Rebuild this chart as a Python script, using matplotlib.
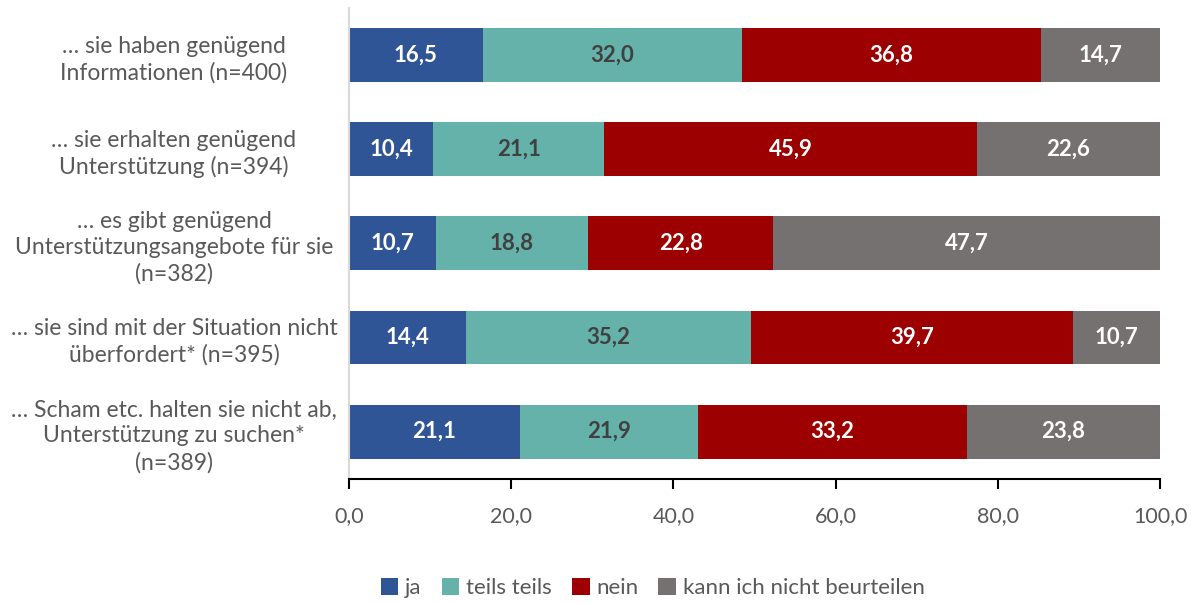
import numpy as np
from matplotlib import pyplot as plt

plt.rcParams['font.family'] = ['Lato', 'DejaVu Sans']

categories = [
    "… sie haben genügend\nInformationen (n=400)",
    "… sie erhalten genügend\nUnterstützung (n=394)",
    "… es gibt genügend\nUnterstützungsangebote für sie\n(n=382)",
    "… sie sind mit der Situation nicht\nüberfordert* (n=395)",
    "… Scham etc. halten sie nicht ab,\nUnterstützung zu suchen*\n(n=389)",
]
ja = [16.5, 10.4, 10.7, 14.4, 21.1]
teils = [32.0, 21.1, 18.8, 35.2, 21.9]
nein = [36.8, 45.9, 22.8, 39.7, 33.2]
kann_nicht = [14.7, 22.6, 47.7, 10.7, 23.8]

series = [
    ("ja", ja, "#2F5597", "white"),
    ("teils teils", teils, "#65B2AA", "#404040"),
    ("nein", nein, "#9C0000", "white"),
    ("kann ich nicht beurteilen", kann_nicht, "#767171", "white"),
]

fig = plt.figure(figsize=(11.91, 6.03), dpi=100)
ax = fig.add_axes([0.293, 0.206, 0.681, 0.781])

y = np.arange(len(categories))
left = np.zeros(len(categories))
for name, vals, color, txt in series:
    vals = np.array(vals)
    bars = ax.barh(y, vals, left=left, height=0.57, color=color, label=name)
    for b, v in zip(bars, vals):
        ax.text(b.get_x() + b.get_width() / 2, b.get_y() + b.get_height() / 2,
                f"{v:.1f}".replace(".", ","), ha="center", va="center",
                color=txt, fontsize=16, fontweight="bold")
    left += vals

ax.set_xlim(0, 100)
ax.set_ylim(len(categories) - 0.5, -0.5)
ax.set_yticks(y)
ax.set_yticklabels(categories, fontsize=16.5, color="#595959", ha="center",
                   linespacing=1.3)
# pad is in points: ~126pt puts the label centres at about x=174px
ax.tick_params(axis="y", length=0, pad=126)
ax.set_xticks(np.arange(0, 101, 20))
ax.set_xticklabels([f"{t:.1f}".replace(".", ",") for t in range(0, 101, 20)],
                   fontsize=15.5, color="#595959")
ax.tick_params(axis="x", length=7, width=1.5, color="black", pad=13)

for s in ["top", "right"]:
    ax.spines[s].set_visible(False)
ax.spines["left"].set_color("#D9D9D9")
ax.spines["left"].set_linewidth(1.5)
ax.spines["bottom"].set_color("black")
ax.spines["bottom"].set_linewidth(1.5)

leg = fig.legend(loc="center", bbox_to_anchor=(0.548, 0.025), ncol=4, frameon=False,
                 fontsize=16, handlelength=0.8, handleheight=0.8, handletextpad=0.3,
                 columnspacing=0.9)
for t in leg.get_texts():
    t.set_color("#595959")

plt.savefig("out.png", dpi=100)
